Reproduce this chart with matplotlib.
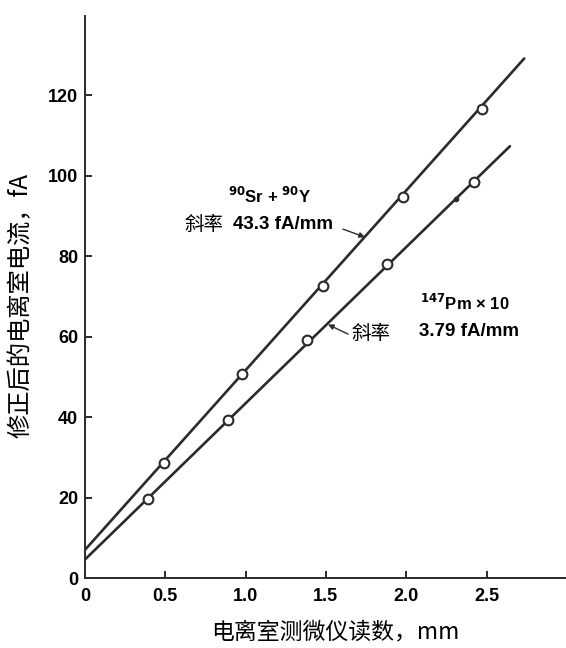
import matplotlib
matplotlib.use("Agg")
from matplotlib import pyplot as plt

plt.rcParams['font.family'] = ['Liberation Sans', 'Noto Sans CJK SC', 'DejaVu Sans']

# 90Sr + 90Y
sr_x = [0.49, 0.98, 1.48, 1.98, 2.47]
sr_y = [28.7, 50.7, 72.5, 94.7, 116.5]
sr_fit_x = [0.0, 2.735]
sr_fit_y = [7.0, 129.1]

# 147Pm x 10
pm_x = [0.394, 0.89, 1.38, 1.88, 2.42]
pm_y = [19.7, 39.3, 59.1, 78.0, 98.3]
pm_fit_x = [0.0, 2.646]
pm_fit_y = [4.6, 107.3]

x_ticks = [0, 0.5, 1.0, 1.5, 2.0, 2.5]
x_labels = ['0', '0.5', '1.0', '1.5', '2.0', '2.5']
y_ticks = [0, 20, 40, 60, 80, 100, 120]

ink = '#2b2b2b'
cjk = ['Noto Sans CJK SC', 'DejaVu Sans']

fig = plt.figure(figsize=(5.66, 6.48), dpi=100)
ax = fig.add_axes([0.1502, 0.108, 0.8498, 0.867])

ax.plot(sr_fit_x, sr_fit_y, color=ink, lw=1.9, solid_capstyle='round')
ax.plot(pm_fit_x, pm_fit_y, color=ink, lw=1.9, solid_capstyle='round')
ax.plot(sr_x, sr_y, 'o', color=ink, mfc='white', mec=ink, ms=7, mew=1.5)
ax.plot(pm_x, pm_y, 'o', color=ink, mfc='white', mec=ink, ms=7, mew=1.5)
ax.plot([2.308], [94.3], 'o', color=ink, ms=3)  # small mark on the Pm line

ax.set_xlim(0, 2.995)
ax.set_ylim(0, 139.6)
for s in ['top', 'right']:
    ax.spines[s].set_visible(False)
for s in ['left', 'bottom']:
    ax.spines[s].set_linewidth(1.4)
    ax.spines[s].set_color(ink)

ax.set_xticks(x_ticks)
ax.set_xticklabels(x_labels)
ax.set_yticks(y_ticks)
ax.tick_params(direction='in', length=5, width=1.4, color=ink, labelsize=13)
ax.tick_params(axis='x', pad=7)
ax.tick_params(axis='y', pad=5)
for lab in ax.get_xticklabels() + ax.get_yticklabels():
    lab.set_fontweight('bold')

ax.set_xlabel('电离室测微仪读数，mm', fontsize=16.5, family=cjk)
ax.xaxis.set_label_coords(0.52, -0.076)
ax.set_ylabel('修正后的电离室电流，fA', fontsize=17.5, family=cjk)
ax.yaxis.set_label_coords(-0.106, 0.485)

# annotations
ax.text(1.152, 94.9, r'$\mathbf{^{90}}$Sr + $\mathbf{^{90}}$Y', ha='center', va='center',
        fontsize=12, fontweight='bold')
ax.text(0.62, 87.8, '斜率', ha='left', va='center', fontsize=14, family=cjk)
ax.text(0.92, 87.8, '43.3 fA/mm', ha='left', va='center', fontsize=13.5, fontweight='bold')
ax.annotate('', xy=(1.743, 84.7), xytext=(1.606, 86.7),
            arrowprops=dict(arrowstyle='-|>', lw=1.0, color=ink, mutation_scale=8,
                            shrinkA=0, shrinkB=0))

ax.text(2.085, 68.3, r'$\mathbf{^{147}}$Pm × 10', ha='left', va='center',
        fontsize=12, fontweight='bold')
ax.text(2.08, 61.2, '3.79 fA/mm', ha='left', va='center', fontsize=13.5, fontweight='bold')
ax.text(1.66, 60.8, '斜率', ha='left', va='center', fontsize=14, family=cjk)
ax.annotate('', xy=(1.513, 63.0), xytext=(1.638, 60.6),
            arrowprops=dict(arrowstyle='-|>', lw=1.0, color=ink, mutation_scale=8,
                            shrinkA=0, shrinkB=0))

fig.savefig('out.png', dpi=100)
